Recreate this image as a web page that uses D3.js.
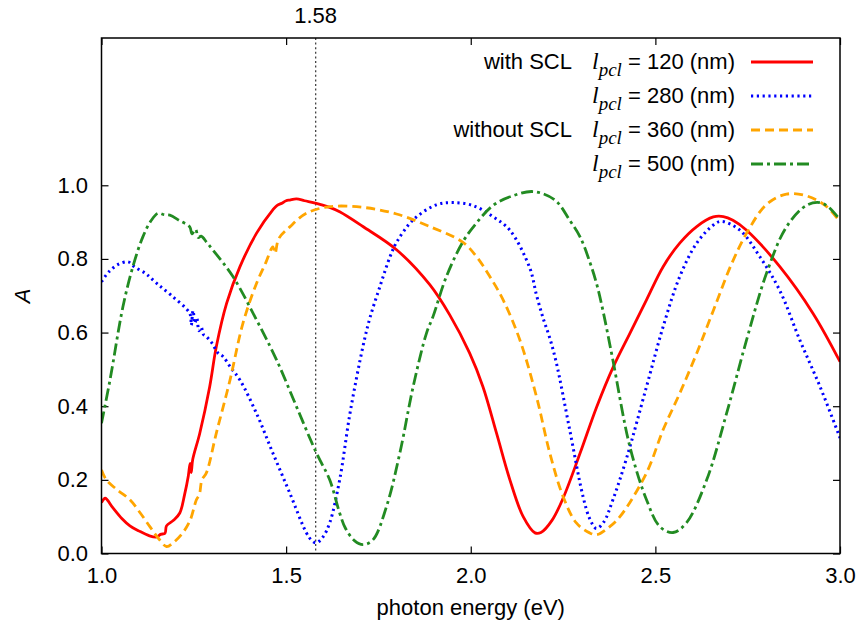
<!DOCTYPE html>
<html>
<head>
<meta charset="utf-8">
<script src="https://cdn.jsdelivr.net/npm/d3@7"></script>
<style>
  html, body { margin: 0; padding: 0; background: #fff; }
  svg { display: block; font-family: "Liberation Sans", Arial, Helvetica, sans-serif; }
</style>
</head>
<body>
<svg id="chart" width="858" height="625"></svg>
<script>
// ---------- data ----------
const xTicks = [1.0, 1.5, 2.0, 2.5, 3.0];
const yTicks = [0.0, 0.2, 0.4, 0.6, 0.8, 1.0];
const markerEnergy = 1.58;
const seriesNames = ["120", "280", "360", "500"];
const groupLabels = ["with SCL", "", "without SCL", ""];

const redE = [1.000,1.010,1.030,1.055,1.077,1.100,1.130,1.150,1.160,1.172,1.176,1.195,1.212,1.225,1.235,1.240,1.243,1.247,1.266,1.293,1.311,1.339,1.375,1.420,1.464,1.475,1.490,1.500,1.510,1.528,1.550,1.582,1.618,1.645,1.708,1.799,1.889,1.943,1.997,2.033,2.070,2.106,2.142,2.174,2.190,2.220,2.250,2.296,2.341,2.386,2.431,2.476,2.521,2.566,2.612,2.657,2.684,2.710,2.747,2.837,2.927,3.000];
const redA = [0.138,0.150,0.125,0.095,0.075,0.062,0.048,0.045,0.052,0.055,0.075,0.090,0.110,0.160,0.210,0.245,0.220,0.255,0.326,0.453,0.562,0.680,0.779,0.870,0.933,0.945,0.952,0.958,0.960,0.963,0.958,0.951,0.940,0.928,0.888,0.825,0.730,0.648,0.544,0.453,0.326,0.200,0.100,0.056,0.057,0.090,0.150,0.272,0.398,0.507,0.598,0.689,0.779,0.843,0.888,0.914,0.915,0.905,0.878,0.779,0.652,0.521];

const blueE = [1.000,1.020,1.045,1.072,1.090,1.120,1.149,1.190,1.239,1.243,1.248,1.253,1.258,1.264,1.270,1.276,1.284,1.300,1.315,1.329,1.350,1.375,1.420,1.464,1.510,1.555,1.570,1.582,1.600,1.618,1.645,1.673,1.708,1.727,1.754,1.781,1.799,1.844,1.907,1.952,2.006,2.060,2.106,2.160,2.178,2.196,2.214,2.232,2.268,2.304,2.322,2.340,2.360,2.385,2.422,2.476,2.521,2.566,2.612,2.657,2.679,2.729,2.783,2.837,2.891,2.946,3.000];
const blueA = [0.738,0.765,0.785,0.792,0.778,0.760,0.734,0.700,0.652,0.620,0.660,0.625,0.640,0.605,0.615,0.595,0.589,0.570,0.545,0.535,0.505,0.471,0.380,0.273,0.164,0.056,0.035,0.029,0.045,0.083,0.200,0.381,0.562,0.640,0.725,0.805,0.845,0.906,0.947,0.953,0.945,0.915,0.878,0.775,0.702,0.639,0.585,0.517,0.336,0.155,0.095,0.068,0.085,0.146,0.259,0.453,0.616,0.752,0.843,0.892,0.902,0.878,0.806,0.714,0.580,0.453,0.314];

const orangeE = [1.000,1.013,1.040,1.077,1.105,1.131,1.155,1.176,1.195,1.220,1.240,1.257,1.265,1.272,1.284,1.311,1.348,1.383,1.420,1.445,1.464,1.470,1.480,1.510,1.555,1.618,1.708,1.799,1.889,1.979,2.015,2.050,2.088,2.133,2.178,2.214,2.250,2.286,2.322,2.341,2.370,2.404,2.476,2.521,2.566,2.612,2.657,2.707,2.750,2.801,2.855,2.910,2.964,3.000];
const orangeA = [0.227,0.200,0.175,0.146,0.110,0.073,0.040,0.019,0.030,0.056,0.090,0.146,0.160,0.200,0.219,0.327,0.471,0.625,0.734,0.790,0.833,0.815,0.855,0.887,0.924,0.942,0.940,0.922,0.888,0.845,0.807,0.755,0.688,0.580,0.426,0.273,0.155,0.083,0.056,0.051,0.068,0.100,0.219,0.336,0.435,0.544,0.660,0.788,0.875,0.948,0.976,0.971,0.942,0.900];

const greenE = [1.000,1.023,1.058,1.085,1.112,1.135,1.153,1.170,1.185,1.210,1.239,1.245,1.255,1.262,1.270,1.285,1.302,1.356,1.420,1.474,1.528,1.582,1.618,1.645,1.660,1.685,1.708,1.735,1.772,1.808,1.844,1.880,1.898,1.934,1.979,2.015,2.060,2.110,2.169,2.228,2.268,2.296,2.323,2.341,2.359,2.384,2.431,2.476,2.512,2.548,2.584,2.639,2.693,2.747,2.801,2.855,2.910,2.946,2.970,3.000];
const greenA = [0.354,0.471,0.670,0.779,0.860,0.905,0.924,0.920,0.919,0.905,0.887,0.868,0.880,0.858,0.862,0.845,0.824,0.752,0.634,0.526,0.399,0.273,0.200,0.110,0.070,0.035,0.024,0.037,0.128,0.273,0.453,0.598,0.644,0.752,0.847,0.897,0.945,0.970,0.983,0.960,0.905,0.860,0.790,0.732,0.655,0.530,0.290,0.146,0.073,0.057,0.083,0.200,0.381,0.580,0.761,0.887,0.946,0.953,0.940,0.906];

// ---------- layout ----------
const svg = d3.select("#chart");
const L = 101.5, R = 840, T = 38, B = 553.5;
const FS = 22;

const x = d3.scaleLinear().domain([1.0, 3.0]).range([L, R]);
const y = d3.scaleLinear().domain([0, 1.4]).range([B, T]);

const series = [
  {E: redE, A: redA, color: "#ff0000", dash: null, width: 2.8},
  {E: blueE, A: blueA, color: "#0000ff", dash: "2.2,3.6", width: 3},
  {E: orangeE, A: orangeA, color: "#ffa500", dash: "9,5", width: 2.8},
  {E: greenE, A: greenA, color: "#228b22", dash: "12,4,3,4", width: 2.8}
];

svg.append("defs").append("clipPath").attr("id", "plotclip")
  .append("rect").attr("x", L).attr("y", T).attr("width", R - L).attr("height", B - T);

// axes (ticks inward)
const tickLen = 7;
const gx = svg.append("g").attr("transform", `translate(0,${B})`)
  .call(d3.axisBottom(x).tickValues(xTicks).tickFormat(d3.format(".1f")).tickSize(-tickLen).tickPadding(14));
const gxt = svg.append("g").attr("transform", `translate(0,${T})`)
  .call(d3.axisTop(x).tickValues(xTicks).tickFormat("").tickSize(-tickLen));
const gy = svg.append("g").attr("transform", `translate(${L},0)`)
  .call(d3.axisLeft(y).tickValues(yTicks).tickFormat(d3.format(".1f")).tickSize(-tickLen).tickPadding(13.5));
const gyr = svg.append("g").attr("transform", `translate(${R},0)`)
  .call(d3.axisRight(y).tickValues(yTicks).tickFormat("").tickSize(-tickLen));

[gx, gxt, gy, gyr].forEach(g => {
  g.select(".domain").remove();
  g.selectAll(".tick line").attr("stroke", "#000").attr("stroke-width", 1.2);
  g.selectAll(".tick text").attr("font-size", FS).attr("fill", "#000")
    .attr("font-family", '"Liberation Sans", Arial, sans-serif');
});

// marker line
svg.append("line")
  .attr("x1", x(markerEnergy)).attr("x2", x(markerEnergy))
  .attr("y1", T).attr("y2", B)
  .attr("stroke", "#444").attr("stroke-width", 1.3).attr("stroke-dasharray", "2,2.6");
svg.append("text")
  .attr("x", x(markerEnergy)).attr("y", 23)
  .attr("text-anchor", "middle").attr("font-size", FS)
  .text(d3.format(".2f")(markerEnergy));

// curves
const line = d3.line().x(d => x(d[0])).y(d => y(d[1])).curve(d3.curveCatmullRom.alpha(0.5));
const plot = svg.append("g").attr("clip-path", "url(#plotclip)");
series.forEach(s => {
  const pts = s.E.map((e, i) => [e, s.A[i]]);
  plot.append("path").datum(pts)
    .attr("d", line)
    .attr("fill", "none")
    .attr("stroke", s.color)
    .attr("stroke-width", s.width)
    .attr("stroke-linejoin", "round")
    .attr("stroke-dasharray", s.dash);
});

// frame
svg.append("rect").attr("x", L).attr("y", T).attr("width", R - L).attr("height", B - T)
  .attr("fill", "none").attr("stroke", "#000").attr("stroke-width", 1.5);

// axis labels
svg.append("text")
  .attr("x", (L + R) / 2).attr("y", 615)
  .attr("text-anchor", "middle").attr("font-size", FS)
  .text("photon energy (eV)");
svg.append("text")
  .attr("transform", "translate(30,296) rotate(-90)")
  .attr("text-anchor", "middle").attr("font-size", FS).attr("font-style", "italic")
  .text("A");

// legend
const legTop = 69, legStep = 34;
series.forEach((s, i) => {
  const by = legTop + i * legStep;
  if (groupLabels[i]) {
    svg.append("text").attr("x", 572).attr("y", by)
      .attr("text-anchor", "end").attr("font-size", FS).text(groupLabels[i]);
  }
  const t = svg.append("text").attr("x", 735).attr("y", by)
    .attr("text-anchor", "end").attr("font-size", FS);
  t.append("tspan").attr("font-family", '"Liberation Serif", "Times New Roman", serif')
    .attr("font-style", "italic").attr("font-size", 24).text("l");
  t.append("tspan").attr("font-family", '"Liberation Serif", "Times New Roman", serif')
    .attr("font-style", "italic").attr("font-size", 19).attr("dy", 7).text("pcl");
  t.append("tspan").attr("dy", -7).text(` = ${seriesNames[i]} (nm)`);
  svg.append("line")
    .attr("x1", 751).attr("x2", 813)
    .attr("y1", by - 7).attr("y2", by - 7)
    .attr("stroke", s.color).attr("stroke-width", s.width)
    .attr("stroke-dasharray", s.dash);
});
</script>
</body>
</html>
